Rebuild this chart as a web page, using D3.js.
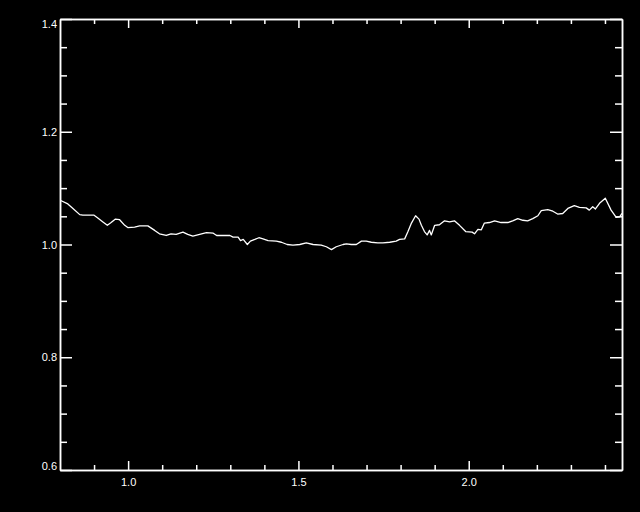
<!DOCTYPE html>
<html>
<head>
<meta charset="utf-8">
<script src="https://cdn.jsdelivr.net/npm/d3@7"></script>
<style>
  html, body { margin: 0; padding: 0; background: #000; }
  svg { display: block; }
  text { font-family: "Liberation Sans", Arial, sans-serif; font-size: 11px; fill: #fff; }
</style>
</head>
<body>
<svg id="chart" width="640" height="512"></svg>
<script>
// ---- data ----
const xValues = [0.802,0.823,0.838,0.858,0.867,0.900,0.911,0.926,0.939,0.950,0.962,0.975,0.990,0.999,1.019,1.034,1.058,1.078,1.092,1.112,1.126,1.141,1.161,1.175,1.190,1.210,1.230,1.250,1.260,1.299,1.308,1.323,1.330,1.338,1.350,1.359,1.372,1.384,1.396,1.411,1.435,1.450,1.467,1.484,1.504,1.523,1.543,1.567,1.582,1.597,1.611,1.631,1.641,1.655,1.670,1.685,1.699,1.714,1.733,1.748,1.768,1.787,1.797,1.812,1.821,1.831,1.844,1.854,1.861,1.870,1.878,1.885,1.890,1.900,1.914,1.929,1.944,1.958,1.973,1.991,2.010,2.017,2.027,2.037,2.046,2.061,2.076,2.095,2.115,2.129,2.144,2.159,2.173,2.188,2.203,2.213,2.232,2.247,2.261,2.276,2.291,2.310,2.325,2.345,2.354,2.364,2.372,2.384,2.401,2.418,2.433,2.443,2.450];
const yValues = [1.078,1.072,1.064,1.053,1.052,1.052,1.047,1.040,1.034,1.039,1.045,1.044,1.034,1.030,1.031,1.033,1.033,1.025,1.019,1.016,1.019,1.018,1.022,1.018,1.015,1.018,1.021,1.020,1.016,1.016,1.013,1.013,1.007,1.009,1.000,1.006,1.009,1.012,1.010,1.007,1.006,1.004,1.000,0.999,1.000,1.003,1.000,0.999,0.996,0.991,0.996,1.000,1.001,1.000,1.000,1.006,1.006,1.004,1.003,1.003,1.004,1.006,1.009,1.010,1.022,1.037,1.051,1.045,1.034,1.023,1.017,1.025,1.017,1.034,1.035,1.042,1.040,1.042,1.034,1.023,1.022,1.019,1.027,1.026,1.038,1.039,1.042,1.039,1.039,1.042,1.046,1.043,1.042,1.046,1.051,1.060,1.062,1.059,1.054,1.055,1.064,1.069,1.066,1.065,1.061,1.067,1.063,1.073,1.082,1.061,1.048,1.049,1.055];

const xMajorTicks = [1.0, 1.5, 2.0];
const xMinorTicks = [0.9, 1.1, 1.2, 1.3, 1.4, 1.6, 1.7, 1.8, 1.9, 2.1, 2.2, 2.3, 2.4];
const yMajorTicks = [0.6, 0.8, 1.0, 1.2, 1.4];
const yMinorTicks = [0.65, 0.7, 0.75, 0.85, 0.9, 0.95, 1.05, 1.1, 1.15, 1.25, 1.3, 1.35];
const xDomain = [0.8, 2.45];
const yDomain = [0.6, 1.4];

// ---- layout ----
const mLeft = 60, mRight = 622, mTop = 19, mBottom = 470;
const svg = d3.select("#chart");
svg.append("rect").attr("width", 640).attr("height", 512).attr("fill", "#000");

const x = d3.scaleLinear().domain(xDomain).range([mLeft, mRight]);
const y = d3.scaleLinear().domain(yDomain).range([mBottom, mTop]);
const fmt = d3.format(".1f");

function styleAxis(g) {
  g.selectAll("path.domain").attr("stroke", "#fff").attr("stroke-width", 1.5);
  g.selectAll(".tick line").attr("stroke", "#fff").attr("stroke-width", 1.5);
  g.selectAll("text").attr("fill", "#fff")
    .style("font-family", '"Liberation Sans", Arial, sans-serif').style("font-size", "11px");
}

// bottom axis
svg.append("g").attr("transform", `translate(0,${mBottom})`)
  .call(d3.axisBottom(x).tickValues(xMajorTicks).tickSize(-9).tickSizeOuter(0).tickPadding(8).tickFormat(fmt))
  .call(styleAxis);
svg.append("g").attr("transform", `translate(0,${mBottom})`)
  .call(d3.axisBottom(x).tickValues(xMinorTicks).tickSize(-5).tickSizeOuter(0).tickFormat(""))
  .call(styleAxis);
// top axis
svg.append("g").attr("transform", `translate(0,${mTop})`)
  .call(d3.axisTop(x).tickValues(xMajorTicks).tickSize(-9).tickSizeOuter(0).tickFormat(""))
  .call(styleAxis);
svg.append("g").attr("transform", `translate(0,${mTop})`)
  .call(d3.axisTop(x).tickValues(xMinorTicks).tickSize(-5).tickSizeOuter(0).tickFormat(""))
  .call(styleAxis);
// left axis
const yl = svg.append("g").attr("transform", `translate(${mLeft},0)`)
  .call(d3.axisLeft(y).tickValues(yMajorTicks).tickSize(-12).tickSizeOuter(0).tickPadding(3).tickFormat(fmt))
  .call(styleAxis);
yl.selectAll(".tick text").attr("dy", d => d === 0.6 ? "-0.05em" : d === 1.4 ? "0.75em" : "0.32em");
svg.append("g").attr("transform", `translate(${mLeft},0)`)
  .call(d3.axisLeft(y).tickValues(yMinorTicks).tickSize(-7).tickSizeOuter(0).tickFormat(""))
  .call(styleAxis);
// right axis
svg.append("g").attr("transform", `translate(${mRight},0)`)
  .call(d3.axisRight(y).tickValues(yMajorTicks).tickSize(-12).tickSizeOuter(0).tickFormat(""))
  .call(styleAxis);
svg.append("g").attr("transform", `translate(${mRight},0)`)
  .call(d3.axisRight(y).tickValues(yMinorTicks).tickSize(-7).tickSizeOuter(0).tickFormat(""))
  .call(styleAxis);

// data line
const data = xValues.map((v, i) => ({ x: v, y: yValues[i] }));
svg.append("path")
  .datum(data)
  .attr("fill", "none")
  .attr("stroke", "#fff")
  .attr("stroke-width", 1.3)
  .attr("stroke-linejoin", "round")
  .attr("d", d3.line().x(d => x(d.x)).y(d => y(d.y)));
</script>
</body>
</html>
